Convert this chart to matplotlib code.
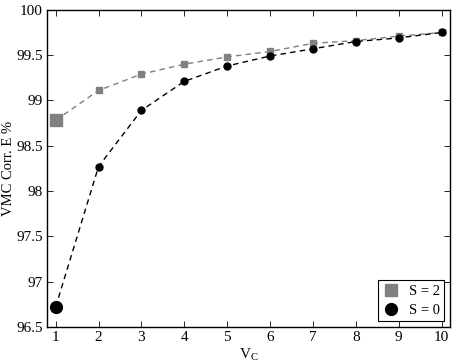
import matplotlib
matplotlib.use("Agg")
import matplotlib.pyplot as plt

plt.rcParams['font.family'] = ['Liberation Serif', 'DejaVu Serif']
plt.rcParams['mathtext.fontset'] = 'stix'

vc = [1, 2, 3, 4, 5, 6, 7, 8, 9, 10]
s2 = [98.78, 99.11, 99.29, 99.40, 99.48, 99.54, 99.63, 99.66, 99.71, 99.75]
s0 = [96.72, 98.27, 98.89, 99.21, 99.38, 99.49, 99.57, 99.65, 99.69, 99.75]

grey = '#808080'

fig = plt.figure(figsize=(4.57, 3.64), dpi=100)
ax = fig.add_axes([0.103, 0.102, 0.882, 0.871])

# dashed guide lines through the points
ax.plot(vc, s2, '--', color=grey, lw=1.0, dashes=(4, 3))
ax.plot(vc, s0, '--', color='black', lw=1.0, dashes=(4, 3))

# markers, first point drawn bigger
ax.plot(vc[1:], s2[1:], 's', color=grey, ms=4.5, mec=grey)
ax.plot(vc[1:], s0[1:], 'o', color='black', ms=5)
ax.plot(vc[:1], s2[:1], 's', color=grey, ms=9, mec=grey)
ax.plot(vc[:1], s0[:1], 'o', color='black', ms=8.5)

# legend handles
h2, = ax.plot([], [], 's', color=grey, ms=9, mec=grey, label='S = 2')
h0, = ax.plot([], [], 'o', color='black', ms=8.5, label='S = 0')
leg = ax.legend(handles=[h2, h0], loc='lower right', fontsize=10.5,
                fancybox=False, framealpha=1, edgecolor='black',
                borderaxespad=0.4, handletextpad=0.6, borderpad=0.3,
                labelspacing=0.4, handlelength=1.2)
leg.get_frame().set_linewidth(0.8)

ax.set_xlim(0.8, 10.2)
ax.set_ylim(96.5, 100)
ax.set_xticks(vc)
ax.set_yticks([96.5, 97, 97.5, 98, 98.5, 99, 99.5, 100])
ax.set_yticklabels(['96.5', '97', '97.5', '98', '98.5', '99', '99.5', '100'])
ax.tick_params(direction='in', top=True, right=True, labelsize=11, length=4, width=0.6, pad=3)
for sp in ax.spines.values():
    sp.set_linewidth(1.0)

ax.set_xlabel(r'V$_\mathregular{C}$', fontsize=11, labelpad=2)
ax.set_ylabel('VMC Corr. E %', fontsize=10.5, labelpad=1)

fig.savefig('out.png', dpi=100)
